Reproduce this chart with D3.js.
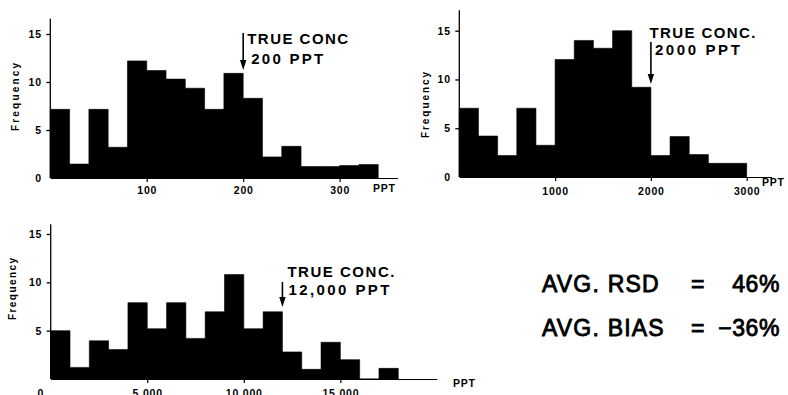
<!DOCTYPE html>
<html>
<head>
<meta charset="utf-8">
<script src="https://cdn.jsdelivr.net/npm/d3@7"></script>
<style>
  html, body { margin: 0; padding: 0; background: #fff; }
  svg { display: block; }
  text { font-family: "Liberation Sans", Arial, Helvetica, sans-serif; }
</style>
</head>
<body>
<script>
// Frequency counts per concentration bin (parts per trillion)
const lowCounts  = [7.15, 1.45, 7.15, 3.2, 12.2, 11.2, 10.3, 9.35, 7.15, 10.9, 8.3, 2.2, 3.3, 1.2, 1.2, 1.3, 1.4];
const lowBinWidth = 20;
const lowTicks = [100, 200, 300];
const lowTrue = 200;

const midCounts  = [7.05, 4.2, 2.2, 7.05, 3.25, 12.05, 14.0, 13.2, 15.0, 9.2, 2.2, 4.15, 2.3, 1.4, 1.4];
const midBinWidth = 200;
const midTicks = [1000, 2000, 3000];
const midTrue = 2000;

const highCounts = [5.0, 1.2, 3.95, 3.05, 7.9, 5.2, 7.9, 4.2, 6.95, 10.8, 5.2, 6.95, 2.8, 1.0, 3.8, 2.0, 0, 1.1];
const highBinWidth = 1000;
const highTicks = [5000, 10000, 15000];
const highTrue = 12000;

const freqTicks = [0, 5, 10, 15];
const annotationTitle = ["TRUE CONC", "TRUE CONC.", "TRUE CONC."];
const annotationValue = ["200 PPT", "2000 PPT", "12,000 PPT"];
const summaryLabels = ["AVG. RSD", "AVG. BIAS"];
const summaryValues = ["46%", "\u221236%"];

const W = 788, H = 395;
const svg = d3.select("body").append("svg").attr("width", W).attr("height", H);

// Panel geometry
const panels = [
  { counts: lowCounts, bin: lowBinWidth, xTicks: lowTicks, truth: lowTrue, fmt: d3.format("d"),
    xMax: 360, left: 50.3, right: 397.5, base: 178, top15: 34, yMax: 16.6, xPad: 5,
    zeroOnY: true, freq: [15, 97, 68], unitX: [373, 188],
    ann: { i: 0, y0: 33, y1: 70, t1: [4, 44, 101], t2: [8, 64, 72] } },
  { counts: midCounts, bin: midBinWidth, xTicks: midTicks, truth: midTrue, fmt: d3.format("d"),
    xMax: 3260, left: 459.3, right: 771.6, base: 177, top15: 30.7, yMax: 17.1, xPad: 6.5,
    zeroOnY: true, freq: [425, 105, 66], unitX: [762, 182],
    ann: { i: 1, y0: 42, y1: 84, t1: [-1.5, 37.5, 106], t2: [4, 55, 85] } },
  { counts: highCounts, bin: highBinWidth, xTicks: highTicks, truth: highTrue, fmt: d3.format(","),
    xMax: 20000, left: 50.7, right: 436.9, base: 379, top15: 234, yMax: 16, xPad: 6.5,
    zeroOnY: false, freq: [12, 289, 62], unitX: [453, 383],
    ann: { i: 2, y0: 282, y1: 307, t1: [5, 276.7, 107], t2: [6, 295, 101] } }
];

function styleAxisText(sel) {
  sel.attr("font-family", "'Liberation Sans', Arial, sans-serif")
     .attr("font-size", 10.5).attr("font-weight", "bold")
     .attr("letter-spacing", "0.8px").attr("fill", "#000");
}

panels.forEach(p => {
  const x = d3.scaleLinear().domain([0, p.xMax]).range([p.left, p.right]);
  const y = d3.scaleLinear().domain([0, 15]).range([p.base, p.top15]);
  const g = svg.append("g");

  // histogram drawn as one stepped silhouette so adjacent bins do not seam
  const steps = [];
  p.counts.forEach((d, i) => {
    steps.push([i * p.bin, d]);
    steps.push([(i + 1) * p.bin, d]);
  });
  const area = d3.area()
    .x(s => x(s[0]))
    .y0(y(0))
    .y1(s => y(s[1]));
  g.append("path").datum(steps).attr("d", area)
    .attr("fill", "#000").attr("stroke", "#000").attr("stroke-width", 0.6)
    .attr("stroke-linejoin", "miter");

  // x axis
  const gx = g.append("g").attr("transform", `translate(0,${y(0)})`)
    .call(d3.axisBottom(x).tickValues(p.xTicks).tickSize(4).tickSizeOuter(0)
      .tickPadding(p.xPad).tickFormat(p.fmt));
  gx.select(".domain").attr("stroke", "#000").attr("stroke-width", 1.2);
  gx.selectAll(".tick line").attr("stroke", "#000").attr("stroke-width", 1.2);
  styleAxisText(gx.selectAll(".tick text"));
  gx.attr("font-family", null);

  // y axis
  const gy = g.append("g").attr("transform", `translate(${x(0)},0)`)
    .call(d3.axisLeft(y).tickValues(p.zeroOnY ? freqTicks : freqTicks.filter(v => v > 0))
      .tickSize(4).tickSizeOuter(0).tickPadding(4.5));
  gy.select(".domain").remove();
  gy.selectAll(".tick line").attr("stroke", "#000").attr("stroke-width", 1.3)
    .filter(d => d === 0).remove();
  styleAxisText(gy.selectAll(".tick text"));
  g.append("line")
    .attr("x1", x(0)).attr("x2", x(0))
    .attr("y1", y(0)).attr("y2", y(p.yMax))
    .attr("stroke", "#000").attr("stroke-width", 1.3);

  // origin label under the axis corner for the lower panel
  if (!p.zeroOnY) {
    g.append("text").attr("x", x(0) - 10).attr("y", y(0) + 11)
      .attr("dy", "0.71em").attr("text-anchor", "middle").text("0")
      .call(styleAxisText);
  }

  // unit label
  g.append("text").attr("x", p.unitX[0]).attr("y", p.unitX[1])
    .attr("dy", "0.35em").text("PPT").call(styleAxisText);

  // Frequency label
  g.append("text")
    .attr("transform", `translate(${p.freq[0]},${p.freq[1]}) rotate(-90)`)
    .attr("text-anchor", "middle").attr("dy", "0.35em")
    .attr("font-size", 10).attr("font-weight", "bold")
    .attr("textLength", p.freq[2]).attr("lengthAdjust", "spacing")
    .text("Frequency");

  // true concentration marker
  const ax = x(p.truth);
  const a = p.ann;
  g.append("line").attr("x1", ax).attr("x2", ax)
    .attr("y1", a.y0).attr("y2", a.y1 - 8)
    .attr("stroke", "#000").attr("stroke-width", 1.6);
  g.append("path")
    .attr("d", `M${ax - 3.2},${a.y1 - 10} L${ax + 3.2},${a.y1 - 10} L${ax},${a.y1} Z`)
    .attr("fill", "#000");
  g.append("text").attr("x", ax + a.t1[0]).attr("y", a.t1[1])
    .attr("font-size", 15).attr("font-weight", "bold")
    .attr("textLength", a.t1[2]).attr("lengthAdjust", "spacing")
    .text(annotationTitle[a.i]);
  g.append("text").attr("x", ax + a.t2[0]).attr("y", a.t2[1])
    .attr("font-size", 15).attr("font-weight", "bold")
    .attr("textLength", a.t2[2]).attr("lengthAdjust", "spacing")
    .text(annotationValue[a.i]);
});

// summary statistics
const summary = svg.append("g")
  .attr("font-size", 23).attr("fill", "#000")
  .attr("stroke", "#000").attr("stroke-width", 0.85);
const rowY = [292, 336];
summaryLabels.forEach((lab, i) => {
  summary.append("text").attr("x", 542).attr("y", rowY[i])
    .attr("letter-spacing", "1.2px").text(lab);
  summary.append("text").attr("x", 691).attr("y", rowY[i]).text("=");
  summary.append("text").attr("x", 780).attr("y", rowY[i])
    .attr("text-anchor", "end").attr("letter-spacing", "0.6px").text(summaryValues[i]);
});
</script>
</body>
</html>
